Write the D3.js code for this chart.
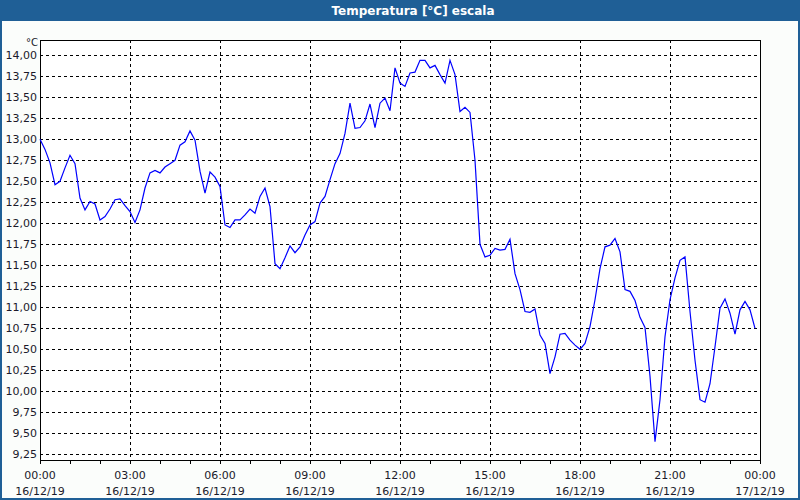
<!DOCTYPE html>
<html>
<head>
<meta charset="utf-8">
<script src="https://cdn.jsdelivr.net/npm/d3@7"></script>
<style>
  html, body { margin: 0; padding: 0; background: #fbfdfb; }
  svg { display: block; }
  text { font-family: Tahoma, "DejaVu Sans", sans-serif; }
</style>
</head>
<body>
<svg id="chart" width="800" height="500"></svg>
<script>
const chartTitle = "Temperatura [°C] escala";
const unitLabel = "°C";
const startTime = "2019-12-16T00:00:00Z";
const endTime = "2019-12-17T00:00:00Z";
const stepMinutes = 10;
const yTicks = [9.25, 9.5, 9.75, 10, 10.25, 10.5, 10.75, 11, 11.25, 11.5, 11.75, 12, 12.25, 12.5, 12.75, 13, 13.25, 13.5, 13.75, 14];
const temperatures = [
  13.00, 12.88, 12.72, 12.46, 12.50, 12.66, 12.81, 12.71, 12.30, 12.16,
  12.26, 12.23, 12.04, 12.08, 12.17, 12.28, 12.29, 12.21, 12.14, 12.01,
  12.16, 12.42, 12.60, 12.63, 12.60, 12.67, 12.71, 12.75, 12.93, 12.97,
  13.10, 12.99, 12.62, 12.36, 12.61, 12.55, 12.44, 11.98, 11.95, 12.04,
  12.04, 12.10, 12.17, 12.12, 12.32, 12.42, 12.20, 11.52, 11.46, 11.59,
  11.73, 11.65, 11.72, 11.86, 11.98, 12.02, 12.24, 12.32, 12.52, 12.71,
  12.83, 13.07, 13.43, 13.13, 13.14, 13.22, 13.42, 13.14, 13.43, 13.49,
  13.34, 13.85, 13.67, 13.63, 13.79, 13.80, 13.94, 13.94, 13.85, 13.88,
  13.77, 13.67, 13.94, 13.77, 13.33, 13.38, 13.32, 12.75, 11.75, 11.60,
  11.62, 11.70, 11.68, 11.69, 11.81, 11.40, 11.21, 10.95, 10.94, 10.98,
  10.67, 10.57, 10.21, 10.41, 10.68, 10.69, 10.61, 10.55, 10.50, 10.57,
  10.77, 11.09, 11.46, 11.72, 11.74, 11.82, 11.66, 11.21, 11.19, 11.08,
  10.88, 10.76, 10.18, 9.40, 9.90, 10.65, 11.09, 11.35, 11.56, 11.60,
  10.95, 10.37, 9.90, 9.87, 10.09, 10.53, 10.99, 11.10, 10.93, 10.68,
  10.97, 11.07, 10.97, 10.75
];

const W = 800, H = 500;
const plot = { left: 40, right: 760, top: 40, bottom: 460 };
const svg = d3.select("#chart");

// background + window frame
svg.append("rect").attr("x", 0).attr("y", 0).attr("width", W).attr("height", H).attr("fill", "#1f5f96");
svg.append("rect").attr("x", 2).attr("y", 21).attr("width", W - 4).attr("height", H - 23).attr("fill", "#fbfdfb");
svg.append("rect").attr("x", plot.left).attr("y", plot.top)
  .attr("width", plot.right - plot.left).attr("height", plot.bottom - plot.top).attr("fill", "#ffffff");

svg.append("text").attr("x", 413).attr("y", 15).attr("text-anchor", "middle")
  .attr("fill", "#ffffff").attr("font-weight", "bold").attr("font-size", "12px").text(chartTitle);

const t0 = new Date(startTime), t1 = new Date(endTime);
const x = d3.scaleUtc().domain([t0, t1]).range([plot.left, plot.right]);
const y = d3.scaleLinear().domain([9.25 - 5.7 / 84, 14 + 15.3 / 84]).range([plot.bottom, plot.top]);

const data = temperatures.map((v, i) => ({ t: new Date(t0.getTime() + i * stepMinutes * 60000), v }));

// horizontal grid
svg.append("g").selectAll("line").data(yTicks).join("line")
  .attr("x1", plot.left).attr("x2", plot.right)
  .attr("y1", d => Math.round(y(d)) + 0.5).attr("y2", d => Math.round(y(d)) + 0.5)
  .attr("stroke", "#000").attr("stroke-dasharray", "3,3").attr("shape-rendering", "crispEdges");

// vertical grid every 3 hours
const majorTicks = d3.utcHour.every(3).range(t0, new Date(t1.getTime() + 1));
svg.append("g").selectAll("line").data(majorTicks.filter(d => d > t0 && d < t1)).join("line")
  .attr("x1", d => Math.round(x(d)) + 0.5).attr("x2", d => Math.round(x(d)) + 0.5)
  .attr("y1", plot.top).attr("y2", plot.bottom)
  .attr("stroke", "#000").attr("stroke-dasharray", "3,3").attr("shape-rendering", "crispEdges");

// y labels
const fmt = d => d3.format(".2f")(d).replace(".", ",");
svg.append("g").selectAll("text").data(yTicks).join("text")
  .attr("x", 37).attr("y", d => y(d) + 4).attr("text-anchor", "end")
  .attr("font-size", "11px").attr("fill", "#1a1a2a").text(fmt);
svg.append("text").attr("x", 38).attr("y", 46).attr("text-anchor", "end")
  .attr("font-size", "10px").attr("fill", "#1a1a2a").text(unitLabel);

// x axis ticks (hourly)
const hourTicks = d3.utcHour.every(1).range(t0, new Date(t1.getTime() + 1));
svg.append("g").selectAll("line").data(hourTicks).join("line")
  .attr("x1", d => Math.round(x(d)) + 0.5).attr("x2", d => Math.round(x(d)) + 0.5)
  .attr("y1", plot.bottom).attr("y2", plot.bottom + 4)
  .attr("stroke", "#000").attr("shape-rendering", "crispEdges");

const fmtTime = d3.utcFormat("%H:%M"), fmtDate = d3.utcFormat("%d/%m/%y");
const xl = svg.append("g").selectAll("g").data(majorTicks).join("g");
xl.append("text").attr("x", d => x(d)).attr("y", 479).attr("text-anchor", "middle")
  .attr("font-size", "11px").attr("fill", "#1a1a2a").text(fmtTime);
xl.append("text").attr("x", d => x(d)).attr("y", 495).attr("text-anchor", "middle")
  .attr("font-size", "11px").attr("fill", "#1a1a2a").text(fmtDate);

// plot frame
svg.append("rect").attr("x", plot.left + 0.5).attr("y", plot.top + 0.5)
  .attr("width", plot.right - plot.left).attr("height", plot.bottom - plot.top)
  .attr("fill", "none").attr("stroke", "#000").attr("shape-rendering", "crispEdges");

// line
const line = d3.line().x(d => x(d.t)).y(d => y(d.v));
svg.append("path").datum(data).attr("d", line)
  .attr("fill", "none").attr("stroke", "#0000ff").attr("stroke-width", 1.2);
</script>
</body>
</html>
